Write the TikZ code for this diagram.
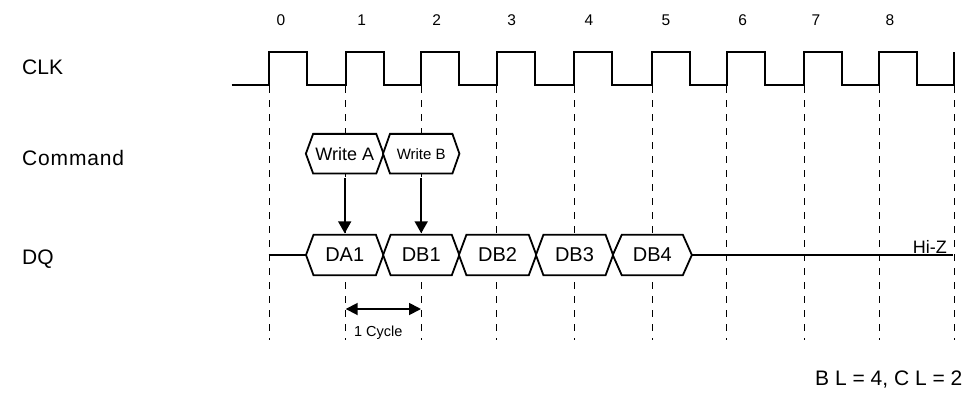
\documentclass[tikz,border=0pt]{standalone}
\usepackage{fontspec}
\setmainfont{Liberation Sans}
\usetikzlibrary{arrows.meta}
\pgfdeclarelayer{grid}
\pgfdeclarelayer{boxes}
\pgfsetlayers{grid,boxes,main}

% bus-value hexagon drawn round a named node: node name, bevel
\newcommand{\hexoutline}[2]{%
  \draw[boxline] (#1.west) -- ([xshift=#2]#1.north west) -- ([xshift=-#2]#1.north east)
    -- (#1.east) -- ([xshift=-#2]#1.south east) -- ([xshift=#2]#1.south west) -- cycle;}

\tikzset{
  sig/.style={font=\fontsize{21}{25}\selectfont, anchor=west, inner sep=0pt},
  tick/.style={font=\fontsize{15.5}{18}\selectfont, inner sep=0pt},
  cmdbox/.style={minimum height=39.3pt, inner sep=0pt},
  dqbox/.style={minimum height=40pt, inner sep=0pt, font=\fontsize{20}{24}\selectfont},
  clockwave/.style={line width=2.2pt, line join=miter},
  gridline/.style={line width=0.9pt, dash pattern=on 7pt off 7pt},
  boxline/.style={line width=1.8pt, fill=white, line join=miter},
  busline/.style={line width=1.6pt},
  drive/.style={line width=1.8pt, -{Triangle[width=13pt,length=12pt]}},
  span/.style={line width=1.8pt, {Triangle[width=12pt,length=12pt]}-{Triangle[width=12pt,length=12pt]}}
}

\begin{document}
\begin{tikzpicture}[x=1pt,y=-1pt]
\useasboundingbox (0,0) rectangle (965,399);

% signal names
\node[sig] (lclk) at (22,67) {CLK};
\node[sig] (lcmd) at (22,158) {\addfontfeatures{LetterSpace=4}Command};
\node[sig] (ldq)  at (22,259) {DQ};

% cycle numbers
\foreach \x/\n in {281/0,361.7/1,436.7/2,511.7/3,589/4,666/5,742.7/6,816/7,890/8}
  \node[tick] (n\n) at (\x,20) {\n};

% clock waveform
\draw[clockwave] (231.7,85)
  foreach \e in {269,345.7,421,496.7,574.3,652,726.7,804.3,879.3}
    { -- (\e,85) -- (\e,52) -- ({\e+38},52) -- ({\e+38},85) }
  -- (954.3,85) -- (954.3,52);

% rising-edge reference lines
\begin{pgfonlayer}{grid}
\foreach \e in {269,345.7,421,496.7,574.3,652,726.7,804.3,879.3,954.3}
  \draw[gridline] (\e,86) -- (\e,340);
\end{pgfonlayer}

% command bus
\node[cmdbox, minimum width=77.3pt, font=\fontsize{18}{22}\selectfont] (wa) at (344.7,153.7) {Write A};
\node[cmdbox, minimum width=76pt, font=\fontsize{15}{18}\selectfont] (wb) at (421.2,153.7) {Write B};

% data bus
\node[dqbox, minimum width=77pt]   (da1) at (344.7,255) {DA1};
\node[dqbox, minimum width=75.8pt] (db1) at (421.2,255) {DB1};
\node[dqbox, minimum width=77pt]   (db2) at (497.6,255) {DB2};
\node[dqbox, minimum width=76.8pt] (db3) at (574.5,255) {DB3};
\node[dqbox, minimum width=78.7pt] (db4) at (652.3,255) {DB4};

\begin{pgfonlayer}{boxes}
\hexoutline{wa}{7.3pt}
\hexoutline{wb}{7pt}
\hexoutline{da1}{7.5pt}
\hexoutline{db1}{7.5pt}
\hexoutline{db2}{7.5pt}
\hexoutline{db3}{7.5pt}
\hexoutline{db4}{9pt}
\end{pgfonlayer}

% bus idle / high impedance
\coordinate (dq0) at (268.5,255);
\coordinate (hz) at (953.3,255);
\draw[busline] (dq0) -- (da1.west);
\draw[busline] (db4.east) -- (hz);
\node[font=\fontsize{18}{22}\selectfont, anchor=east, inner sep=0pt] (hiz) at (947,247) {Hi-Z};

% command to data
\draw[drive, shorten <=4.7pt, shorten >=1.5pt] (wa.south) -- (da1.north);
\draw[drive, shorten <=4.7pt, shorten >=1.5pt] (wb.south) -- (db1.north);

% one clock period
\coordinate (cs) at (345.7,309);
\coordinate (ce) at (421,309);
\draw[span] (cs) -- (ce);
\node[font=\fontsize{14.5}{17}\selectfont, anchor=base, inner sep=0pt] (cyc) at (378.3,336) {1 Cycle};

% burst and CAS latency
\node[font=\fontsize{21}{25}\selectfont, anchor=east, inner sep=0pt] (bl) at (962.5,380) {B L = 4, C L = 2};
\end{tikzpicture}
\end{document}
